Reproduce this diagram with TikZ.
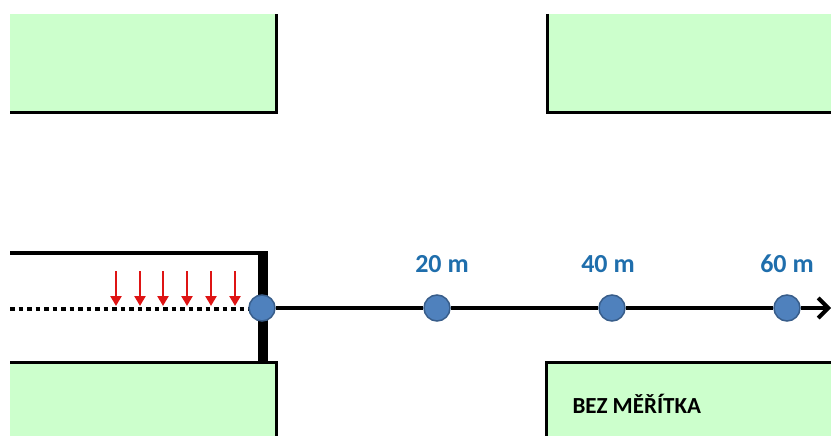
\documentclass[tikz,border=0pt]{standalone}
\usepackage{fontspec}
\setmainfont{Carlito}
\usetikzlibrary{arrows.meta}
\definecolor{blockfill}{RGB}{204,255,204}
\definecolor{dotfill}{RGB}{79,129,189}
\definecolor{dotline}{RGB}{56,93,138}
\definecolor{lblblue}{RGB}{31,110,172}
\definecolor{arrred}{RGB}{222,20,20}
\tikzset{
  blockarea/.style={fill=blockfill, draw=none},
  blockedge/.style={line width=3pt, line join=miter},
  wall/.style={line width=4.5pt},
  post/.style={line width=10pt},
  dotline/.style={line width=4.5pt, dash pattern=on 4.5pt off 4pt},
  loadarrow/.style={line width=2.6pt, draw=arrred, -{Triangle[length=10pt,width=11pt]}},
  axis/.style={line width=4pt},
  axisend/.style={line width=4pt, -{Straight Barb[length=10pt,width=20pt,line width=4pt]}},
  station/.style={circle, minimum size=26pt, inner sep=0pt, fill=dotfill, draw=dotline, line width=1.5pt},
  dist/.style={text=lblblue, font=\fontsize{26}{30}\selectfont\bfseries, anchor=base},
  scalenote/.style={font=\fontsize{23}{27}\selectfont\bfseries, anchor=base west}
}
\begin{document}
\begin{tikzpicture}[x=1pt,y=-1pt]
\useasboundingbox (0,0) rectangle (831,436);
% blocks
\fill[blockarea] (10,14) rectangle (276,113);
\draw[blockedge] (10,113) -- (276,113) -- (276,14);
\fill[blockarea] (547,14) rectangle (831,113);
\draw[blockedge] (547,14) -- (547,113) -- (831,113);
\fill[blockarea] (10,362) rectangle (276,436);
\draw[blockedge] (10,362) -- (276,362) -- (276,436);
\fill[blockarea] (546,362) rectangle (831,436);
\draw[blockedge] (546,436) -- (546,362) -- (831,362);
% left structure
\coordinate (wallL) at (10,253);
\coordinate (wallR) at (268,253);
\coordinate (postT) at (263,251);
\coordinate (postB) at (263,362);
\draw[wall] (wallL) -- (wallR);
\draw[post] (postT) -- (postB);
\coordinate (dotL) at (10,309);
\coordinate (dotR) at (252,309);
\draw[dotline] (dotL) -- (dotR);
% red arrows
\foreach \i/\x in {1/116,2/140,3/163,4/187,5/211,6/235}{
  \coordinate (a\i t) at (\x,271);
  \coordinate (a\i b) at (\x,306);
  \draw[loadarrow] (a\i t) -- (a\i b);
}
% stations
\node[station] (c0) at (262,308) {};
\node[station] (c1) at (437,308) {};
\node[station] (c2) at (612,308) {};
\node[station] (c3) at (787,308) {};
\coordinate (tip) at (831,308);
\draw[axis] (c0) -- (c1);
\draw[axis] (c1) -- (c2);
\draw[axis] (c2) -- (c3);
\draw[axisend] (c3) -- (tip);
% labels
\node[dist] (l1) at (442,272) {20 m};
\node[dist] (l2) at (608,272) {40 m};
\node[dist] (l3) at (787,272) {60 m};
\node[scalenote] (note) at (569,413) {BEZ MĚŘÍTKA};
\end{tikzpicture}
\end{document}
